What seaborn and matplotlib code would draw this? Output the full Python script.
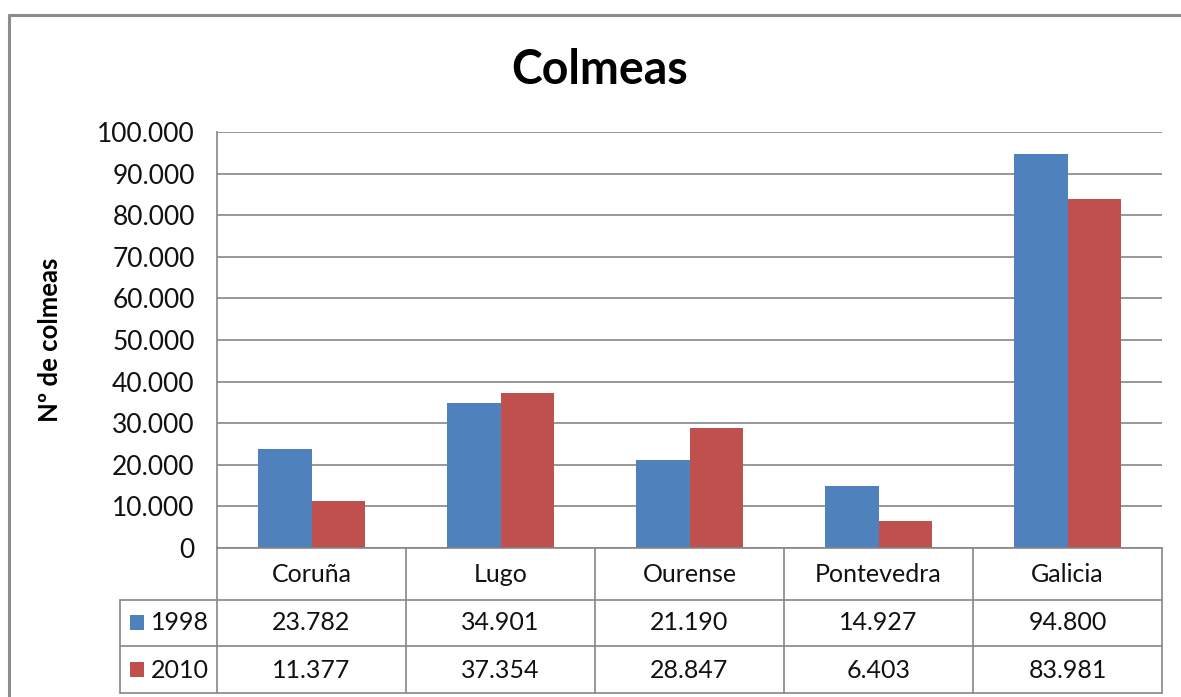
import matplotlib
matplotlib.use("Agg")
import matplotlib.pyplot as plt
import seaborn as sns
import pandas as pd
from matplotlib.transforms import blended_transform_factory
from matplotlib.lines import Line2D
from matplotlib.patches import Rectangle

regions = ["Coruña", "Lugo", "Ourense", "Pontevedra", "Galicia"]
years = ["1998", "2010"]
values_1998 = [23782, 34901, 21190, 14927, 94800]
values_2010 = [11377, 37354, 28847, 6403, 83981]
colors = ["#4F81BD", "#C0504D"]
yticks = list(range(0, 100001, 10000))
title = "Colmeas"
ylabel = "Nº de colmeas"

sns.set_theme(style="white")
plt.rcParams['font.family'] = ['Lato', 'DejaVu Sans']

def fmt(v):
    return f"{int(v):,}".replace(",", ".")

W, H = 1181, 697
fig = plt.figure(figsize=(W / 100, H / 100), dpi=100)
fig.patch.set_facecolor("white")

def fx(x):
    return x / W

def fy(y):
    return 1 - y / H

L, R, T, B = 217, 1162, 132, 548
ax = fig.add_axes([fx(L), fy(B), fx(R) - fx(L), fy(T) - fy(B)])

df = pd.DataFrame({
    "region": regions * 2,
    "year": [years[0]] * len(regions) + [years[1]] * len(regions),
    "value": values_1998 + values_2010,
})
sns.barplot(data=df, x="region", y="value", hue="year", order=regions,
            hue_order=years, palette=colors, saturation=1, width=0.57,
            linewidth=0, ax=ax, legend=False)

gridc = "#868686"
textc = "#111111"
ax.set_xlim(-0.5, len(regions) - 0.5)
ax.set_ylim(0, 100000)
ax.set_yticks(yticks)
ax.set_yticklabels([fmt(v) for v in yticks])
ax.set_xticks([])
ax.set_xlabel("")
ax.grid(axis="y", color=gridc, linewidth=1.2)
ax.set_axisbelow(True)
for s in ["top", "right"]:
    ax.spines[s].set_visible(False)
for s in ["left", "bottom"]:
    ax.spines[s].set_color(gridc)
    ax.spines[s].set_linewidth(1.2)
ax.tick_params(axis="y", length=0, pad=16, labelsize=19, labelcolor=textc)
ax.set_ylabel(ylabel, fontsize=18.5, fontweight="bold", color="#000000")
ax.yaxis.set_label_coords(-0.164, 0.5)

fig.text(fx(600), fy(70), title, ha="center", va="center",
         fontsize=33.5, fontweight="bold", color="#000000")

# data table below the plot
bt = blended_transform_factory(ax.transData, fig.transFigure)
for i in range(len(regions) + 1):
    fig.add_artist(Line2D([i - 0.5, i - 0.5], [fy(B), fy(693)], transform=bt,
                          color=gridc, lw=1.2))
for yy in [600, 646, 693]:
    fig.add_artist(Line2D([fx(120), fx(R)], [fy(yy), fy(yy)],
                          transform=fig.transFigure, color=gridc, lw=1.2))
fig.add_artist(Line2D([fx(120), fx(120)], [fy(600), fy(693)],
                      transform=fig.transFigure, color=gridc, lw=1.2))

rows = [(years[0], values_1998, colors[0], 623), (years[1], values_2010, colors[1], 670)]
for i, r in enumerate(regions):
    fig.text(i, fy(574), r, transform=bt, ha="center", va="center",
             fontsize=18, color=textc)
for lab, vals, c, yc in rows:
    fig.add_artist(Rectangle((fx(130), fy(yc + 7)), 14 / W, 15 / H,
                             transform=fig.transFigure, facecolor=c, edgecolor="none"))
    fig.text(fx(151), fy(yc), lab, ha="left", va="center", fontsize=18, color=textc)
    for i, v in enumerate(vals):
        fig.text(i, fy(yc), fmt(v), transform=bt, ha="center", va="center",
                 fontsize=18, color=textc)

# outer chart frame (partially visible)
framec = "#8c8c8c"
fig.add_artist(Line2D([fx(9), fx(9)], [fy(15), fy(720)], transform=fig.transFigure,
                      color=framec, lw=2.2))
fig.add_artist(Line2D([fx(9), fx(1200)], [fy(15), fy(15)], transform=fig.transFigure,
                      color=framec, lw=2.2))

fig.savefig("out.png", dpi=100)
